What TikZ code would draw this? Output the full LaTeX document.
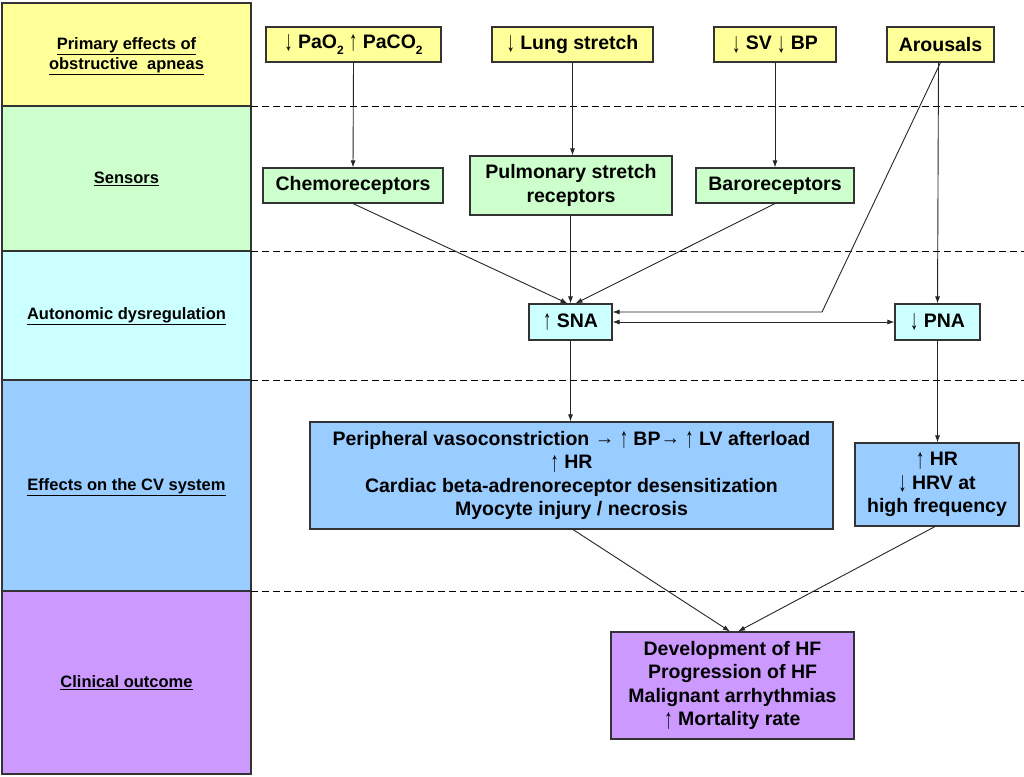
\documentclass[tikz,border=0pt]{standalone}
\usepackage{fontspec}
\setmainfont{Liberation Sans}
\usetikzlibrary{arrows.meta}
\definecolor{cyel}{HTML}{FFFF99}
\definecolor{cgrn}{HTML}{CCFFCC}
\definecolor{ccyn}{HTML}{CCFFFF}
\definecolor{cblu}{HTML}{99CCFF}
\definecolor{cpur}{HTML}{CC99FF}
\definecolor{bord}{HTML}{333333}
\newcommand{\mysub}[1]{\raisebox{-0.28em}{\fontsize{12}{12}\selectfont #1}}
\newcommand{\upa}{\raisebox{-0.12em}{\scalebox{0.85}[1.45]{\mdseries ↑}}}
\newcommand{\dna}{\raisebox{-0.12em}{\scalebox{0.85}[1.45]{\mdseries ↓}}}
\newcommand{\rta}{\raisebox{0.02em}{\scalebox{1.0}[1.0]{\mdseries →}}}
\begin{document}
\begin{tikzpicture}[x=1pt,y=-1pt,
  box/.style={draw=bord,line width=1.1pt,inner sep=0pt,align=center,
    font=\fontsize{19.5}{23.5}\selectfont\bfseries},
  lab/.style={align=center,font=\fontsize{16.5}{19.5}\selectfont\bfseries},
  band/.style={draw=bord,line width=1.1pt},
  sep/.style={line width=1pt,dash pattern=on 7pt off 4pt},
  conn/.style={line width=0.9pt,draw=black!85,-{Latex[length=7pt,width=5pt]}},
  dconn/.style={line width=0.9pt,draw=black!85,{Latex[length=7pt,width=5pt]}-{Latex[length=7pt,width=5pt]}}]
\useasboundingbox (0,0) rectangle (1024,776);
\fill[white] (0,0) rectangle (1024,776);
% left column bands
\filldraw[band,fill=cyel] (2,3) rectangle (251,106);
\filldraw[band,fill=cgrn] (2,106) rectangle (251,251);
\filldraw[band,fill=ccyn] (2,251) rectangle (251,380);
\filldraw[band,fill=cblu] (2,380) rectangle (251,591);
\filldraw[band,fill=cpur] (2,591) rectangle (251,774);
\node[lab] (l1) at (126.5,56) {\underline{Primary effects of}\\\underline{obstructive\ \ apneas}};
\node[lab] (l2) at (126.5,179) {\underline{Sensors}};
\node[lab] (l3) at (126.5,316) {\underline{Autonomic dysregulation}};
\node[lab] (l4) at (126.5,487) {\underline{Effects on the CV system}};
\node[lab] (l5) at (126.5,683) {\underline{Clinical outcome}};
% dashed separators
\draw[sep] (251,106) -- (1024,106);
\draw[sep] (251,251) -- (1024,251);
\draw[sep] (251,380) -- (1024,380);
\draw[sep] (251,591) -- (1024,591);
% primary effects
\node[box,fill=cyel,minimum width=175,minimum height=35] (pao) at (353.5,44.5) {\dna\ PaO\mysub{2} \upa\ PaCO\mysub{2}};
\node[box,fill=cyel,minimum width=161,minimum height=35] (lung) at (572.5,44.5) {\dna\ Lung stretch};
\node[box,fill=cyel,minimum width=122,minimum height=35] (svbp) at (775,44.5) {\dna\ SV \dna\ BP};
\node[box,fill=cyel,minimum width=107,minimum height=35] (arous) at (940.5,44.5) {Arousals};
% sensors
\node[box,fill=cgrn,minimum width=180,minimum height=35] (chemo) at (353,185.5) {Chemoreceptors};
\node[box,fill=cgrn,minimum width=202,minimum height=59] (pulm) at (571,185.5) {Pulmonary stretch\\receptors};
\node[box,fill=cgrn,minimum width=158,minimum height=35] (baro) at (775,185.5) {Baroreceptors};
% autonomic
\node[box,fill=ccyn,minimum width=83,minimum height=36] (sna) at (570.5,322) {\upa\ SNA};
\node[box,fill=ccyn,minimum width=85,minimum height=36] (pna) at (937.5,322) {\dna\ PNA};
% CV effects
\node[box,fill=cblu,minimum width=523,minimum height=107] (cv1) at (571.5,475.5) {Peripheral vasoconstriction \rta\ \upa\ BP\rta\ \upa\ LV afterload\\\upa\ HR\\Cardiac beta-adrenoreceptor desensitization\\Myocyte injury / necrosis};
\node[box,fill=cblu,minimum width=164,minimum height=83] (cv2) at (937,484.5) {\upa\ HR\\\dna\ HRV at\\high frequency};
% outcome
\node[box,fill=cpur,minimum width=243,minimum height=107] (out) at (732.5,685.5) {Development of HF\\Progression of HF\\Malignant arrhythmias\\\upa\ Mortality rate};
% connectors
\draw[conn] (pao.south) -- (chemo.north);
\draw[conn] (lung.south) -- (lung.south |- pulm.north);
\draw[conn] (svbp.south) -- (baro.north);
\draw[conn] (chemo.south) -- ([xshift=-3pt]sna.north);
\draw[conn] (pulm.south -| sna.north) -- (sna.north);
\draw[conn] (baro.south) -- ([xshift=5pt]sna.north);
\coordinate (bend) at (822,312);
\draw[conn] (arous.south) -- (bend) -- (sna.east |- bend);
\draw[conn] ([xshift=-2pt]arous.south) -- (pna.north);
\draw[dconn] (sna.east) -- (pna.west);
\draw[conn] (sna.south) -- (sna.south |- cv1.north);
\draw[conn] (pna.south) -- (pna.south |- cv2.north);
\draw[conn] ([xshift=1.5pt]cv1.south) -- ([xshift=-2.5pt]out.north);
\draw[conn] ([xshift=-2pt]cv2.south) -- ([xshift=5.5pt]out.north);
\end{tikzpicture}
\end{document}
